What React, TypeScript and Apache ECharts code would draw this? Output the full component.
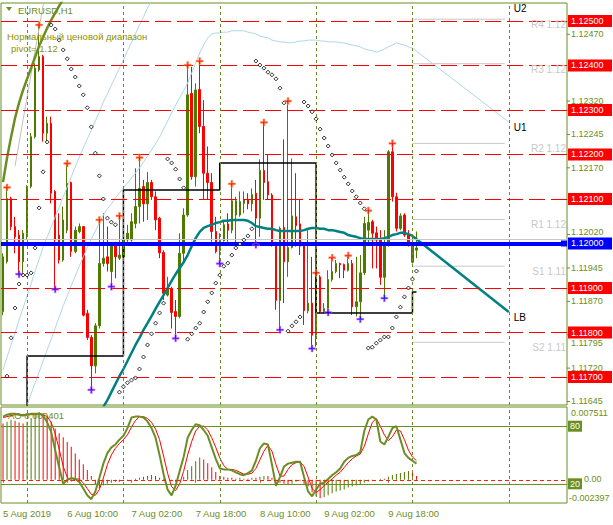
import React, { useEffect, useRef } from "react";
import * as echarts from "echarts";

const FONT = '"Liberation Sans", Arial, sans-serif';
const OLIVE = "#6B8E23";
const BULL = "#4f7a00";
const BEAR = "#ff0000";

const N_CATS = 141;
const PRICE_MIN = 1.116371;
const PRICE_MAX = 1.125404;
const AO_MIN = -0.002397;
const AO_MAX = 0.007511;

const tickBars = [0, 16, 32, 48, 64, 80, 96];
const tickLabels = ["5 Aug 2019", "6 Aug 10:00", "7 Aug 02:00", "7 Aug 18:00", "8 Aug 10:00", "9 Aug 02:00", "9 Aug 18:00"];
const separatorBars = [6, 30, 54, 78, 102, 126];

const opens = [
  1.11847, 1.11959, 1.12101, 1.12038, 1.12019, 1.11959, 1.12023, 1.12128, 1.1224, 1.1239,
  1.1242, 1.12248, 1.1227, 1.12117, 1.12019, 1.11963, 1.1203, 1.12137, 1.11982, 1.12027,
  1.12038, 1.11843, 1.11789, 1.11725, 1.11815, 1.11955, 1.1197, 1.11937, 1.12, 1.11967,
  1.1197, 1.12008, 1.12008, 1.12045, 1.12083, 1.12128, 1.12089, 1.12137, 1.12105, 1.12057,
  1.1198, 1.11884, 1.11899, 1.11847, 1.11836, 1.11978, 1.12064, 1.12337, 1.1215, 1.12346,
  1.12263, 1.12158, 1.12137, 1.12027, 1.11984, 1.12006, 1.12044, 1.1203, 1.12064, 1.12064,
  1.1209, 1.12099, 1.12089, 1.12113, 1.12057, 1.12164, 1.12139, 1.12109, 1.12, 1.11872,
  1.12036, 1.11959, 1.11991, 1.1206, 1.12044, 1.11997, 1.11849, 1.11866, 1.11794, 1.11925,
  1.11847, 1.11854, 1.11919, 1.11937, 1.11955, 1.11953, 1.1194, 1.11955, 1.11858, 1.11869,
  1.11934, 1.1203, 1.12049, 1.12024, 1.12009, 1.11924, 1.12, 1.12206, 1.12105, 1.12034,
  1.12064, 1.12019, 1.11958, 1.11985,
];
const closes = [
  1.1197, 1.12101, 1.12038, 1.12015, 1.11959, 1.12023, 1.12128, 1.1224, 1.12394, 1.1242,
  1.12248, 1.1227, 1.12113, 1.12008, 1.11963, 1.12053, 1.12135, 1.11982, 1.1203, 1.12038,
  1.11839, 1.11789, 1.11725, 1.11815, 1.11955, 1.11967, 1.11955, 1.11997, 1.1197, 1.11974,
  1.12008, 1.12023, 1.12049, 1.12083, 1.12124, 1.12089, 1.12137, 1.12105, 1.12053, 1.11979,
  1.11888, 1.11899, 1.11845, 1.11836, 1.11978, 1.12064, 1.12334, 1.1215, 1.12345, 1.12263,
  1.12158, 1.12137, 1.12027, 1.11982, 1.12006, 1.12042, 1.1203, 1.12096, 1.12096, 1.12094,
  1.12098, 1.12089, 1.1211, 1.12057, 1.12164, 1.12137, 1.12109, 1.11997, 1.11872, 1.12034,
  1.11959, 1.11991, 1.12062, 1.1204, 1.11994, 1.11849, 1.11866, 1.11794, 1.11925, 1.11847,
  1.11854, 1.11919, 1.11937, 1.11955, 1.11952, 1.1194, 1.11955, 1.11858, 1.11869, 1.11934,
  1.12045, 1.12047, 1.12023, 1.12008, 1.11924, 1.12, 1.12206, 1.12105, 1.12034, 1.12062,
  1.12019, 1.12002, 1.12001, 1.1199,
];
const lows = [
  1.11839, 1.11955, 1.1203, 1.11978, 1.11931, 1.11929, 1.12008, 1.12124, 1.12236, 1.12386,
  1.12229, 1.12225, 1.1209, 1.11897, 1.11955, 1.11959, 1.12023, 1.1197, 1.11978, 1.12023,
  1.11836, 1.11783, 1.11671, 1.11708, 1.11809, 1.11948, 1.11937, 1.11903, 1.11922, 1.11963,
  1.1194, 1.12, 1.12004, 1.12034, 1.12045, 1.12049, 1.12053, 1.12098, 1.1203, 1.11967,
  1.11873, 1.11881, 1.11809, 1.11787, 1.11832, 1.11955, 1.1206, 1.12143, 1.12128, 1.12248,
  1.12098, 1.12098, 1.12004, 1.11978, 1.11955, 1.12004, 1.12004, 1.12023, 1.12, 1.1206,
  1.12068, 1.12077, 1.12072, 1.11997, 1.12015, 1.12098, 1.12098, 1.11993, 1.11851, 1.11806,
  1.11866, 1.11925, 1.11989, 1.11993, 1.11974, 1.11817, 1.11843, 1.11764, 1.11768, 1.11843,
  1.11843, 1.11845, 1.11914, 1.11933, 1.11922, 1.11922, 1.11937, 1.11839, 1.11836, 1.1183,
  1.11929, 1.11997, 1.11944, 1.11944, 1.11907, 1.11877, 1.11993, 1.12094, 1.12027, 1.1203,
  1.12015, 1.11993, 1.11955, 1.11967,
];
const highs = [
  1.11978, 1.12126, 1.12105, 1.1206, 1.1203, 1.1203, 1.12131, 1.12248, 1.12405, 1.12491,
  1.12424, 1.12285, 1.12285, 1.1212, 1.12068, 1.12083, 1.1218, 1.12139, 1.12038, 1.12045,
  1.12039, 1.11851, 1.11794, 1.11821, 1.12053, 1.12068, 1.12038, 1.12, 1.12004, 1.12062,
  1.12075, 1.12042, 1.12068, 1.12169, 1.12193, 1.12143, 1.12161, 1.12143, 1.12117, 1.1206,
  1.11985, 1.11925, 1.11903, 1.11873, 1.12023, 1.12079, 1.12401, 1.12397, 1.1236, 1.1241,
  1.12322, 1.12218, 1.12158, 1.1206, 1.12023, 1.12053, 1.12068, 1.12134, 1.12105, 1.12117,
  1.12117, 1.12113, 1.12124, 1.12143, 1.12189, 1.12272, 1.12199, 1.12113, 1.12004, 1.12038,
  1.12234, 1.1232, 1.12191, 1.12158, 1.12099, 1.12, 1.1203, 1.1197, 1.11934, 1.11929,
  1.11866, 1.1194, 1.11968, 1.11963, 1.11957, 1.11955, 1.11973, 1.11963, 1.1197, 1.11974,
  1.1206, 1.12074, 1.12053, 1.12038, 1.1203, 1.1203, 1.1221, 1.12225, 1.12114, 1.12068,
  1.12068, 1.1203, 1.12015, 1.12027,
];

const upFractalBars = [1, 9, 16, 24, 29, 34, 46, 49, 57, 65, 71, 78, 82, 86, 91, 97];
const downFractalBars = [4, 13, 22, 27, 43, 54, 63, 69, 77, 81, 89, 95];

const sarValues = [
  null, 1.11702, 1.11788, 1.11855, 1.11909, 1.11929, 1.11929, 1.11934, 1.1199, 1.1208,
  1.12161, 1.12228, 1.12491, 1.12482, 1.12457, 1.12435, 1.12415, 1.12392, 1.12374, 1.12354,
  1.12334, 1.12305, 1.12262, 1.12203, 1.12152, 1.121, 1.12057, 1.12048, 1.12042, 1.11666,
  1.11678, 1.11687, 1.11693, 1.11698, 1.11718, 1.11745, 1.11772, 1.11797, 1.11821, 1.11844,
  1.11866, 1.1219, 1.12181, 1.12167, 1.12145, 1.12125, 1.11785, 1.11797, 1.1181, 1.11821,
  1.11846, 1.11869, 1.11889, 1.11911, 1.11929, 1.11949, 1.11956, 1.11974, 1.1199, 1.11999,
  1.12008, 1.12017, 1.12033, 1.1241, 1.12401, 1.12394, 1.12385, 1.12379, 1.1237, 1.12349,
  1.12316, 1.11803, 1.11815, 1.11824, 1.11835, 1.12318, 1.12309, 1.12296, 1.1228, 1.12257,
  1.12237, 1.12219, 1.12199, 1.12181, 1.12165, 1.12149, 1.12134, 1.12118, 1.12105, 1.12091,
  1.12078, 1.11765, 1.11767, 1.11776, 1.11783, 1.1179, 1.1179, 1.1181, 1.11835, 1.11857,
  1.1188, 1.119, 1.1192, 1.11938,
];

const maValues = [
  null, null, null, null, null, null, null, null, null, null,
  null, null, null, null, null, null, null, null, null, null,
  null, null, null, null, 1.11615, 1.11633, 1.11648, 1.11666, 1.11684, 1.11702,
  1.11718, 1.11736, 1.11754, 1.11772, 1.11788, 1.11806, 1.11821, 1.11837, 1.11853, 1.11869,
  1.11884, 1.119, 1.11916, 1.11931, 1.11945, 1.11958, 1.11974, 1.11994, 1.12012, 1.12026,
  1.12035, 1.12039, 1.12042, 1.12046, 1.12048, 1.12051, 1.12051, 1.12053, 1.12053, 1.12053,
  1.12053, 1.12051, 1.12046, 1.12039, 1.12037, 1.12035, 1.12033, 1.12033, 1.1203, 1.12028,
  1.12028, 1.12028, 1.12028, 1.12028, 1.12028, 1.1203, 1.12033, 1.12035, 1.12035, 1.12033,
  1.12033, 1.1203, 1.1203, 1.12028, 1.12026, 1.12024, 1.12019, 1.12017, 1.12015, 1.12012,
  1.1201, 1.1201, 1.1201, 1.1201, 1.1201, 1.12012, 1.12015, 1.12019, 1.12021, 1.12024,
  1.12024, 1.12021, 1.12017,
];
const lbProjectionBars = [102, 126];
const lbProjectionValues = [1.12017, 1.11846];

const upperBandValues = [
  null, null, null, null, null, 1.11612, 1.11637, 1.11662, 1.11687, 1.11711,
  1.11736, 1.11761, 1.11785, 1.1181, 1.11835, 1.1186, 1.11882, 1.11905, 1.11927, 1.11949,
  1.1197, 1.1199, 1.1201, 1.12028, 1.12046, 1.12064, 1.12078, 1.12089, 1.12102, 1.12114,
  1.12125, 1.12136, 1.12147, 1.12158, 1.1217, 1.12183, 1.12197, 1.1221, 1.12224, 1.12239,
  1.12257, 1.12275, 1.12293, 1.12311, 1.12327, 1.12343, 1.12361, 1.12383, 1.12406, 1.12428,
  1.12446, 1.12462, 1.12471, 1.12473, 1.12473, 1.12475, 1.12475, 1.12478, 1.12478, 1.12478,
  1.12478, 1.12475, 1.12473, 1.12471, 1.12466, 1.12464, 1.12462, 1.12457, 1.12455, 1.12453,
  1.12453, 1.12451, 1.12451, 1.12453, 1.12455, 1.12455, 1.12457, 1.12457, 1.12457, 1.12455,
  1.12455, 1.12453, 1.12453, 1.12453, 1.12451, 1.12451, 1.12448, 1.12446, 1.12444, 1.12442,
  1.12437, 1.12435, 1.12433, 1.1243, 1.12433, 1.12437, 1.12442, 1.12446, 1.12451, 1.12448,
  1.12446, 1.12442, 1.12439,
];
const u1ProjectionBars = [102, 126];
const u1ProjectionValues = [1.12439, 1.12273];

const steepBandValues = [
  1.11716, 1.11745, 1.11772, 1.11799, 1.11828, 1.11855, 1.11882, 1.11909, 1.11938, 1.11965,
  1.11992, 1.12015, 1.12037, 1.1206, 1.12082, 1.12105, 1.12127, 1.1215, 1.12172, 1.12194,
  1.12215, 1.12235, 1.12255, 1.12275, 1.12296, 1.12318, 1.12336, 1.12356, 1.12374, 1.12394,
  1.12412, 1.12433, 1.12451, 1.12471, 1.12491, 1.12509, 1.12529, 1.12547, 1.12565,
];
const u2BandValues = [
  1.12138, 1.12192, 1.12239, 1.12282, 1.12316, 1.12345, 1.1237, 1.12394, 1.12419, 1.12444,
  1.12464, 1.12484, 1.12502, 1.12518, 1.12534, 1.12549,
];
const greyBandValues = [null, null, null, 1.12174, 1.12226, 1.12278, 1.12329, 1.12381, 1.12433, 1.12484, 1.12536, 1.12588];

const rangeStepBars = [0, 6, 30, 54, 78, 102, 103];
const rangeStepValues = [1.1155, 1.11747, 1.1212, 1.12181, 1.11844, 1.11891, 1.11891];

const redLevels = [1.125, 1.124, 1.123, 1.122, 1.121, 1.119, 1.118, 1.117];
const blueLevel = 1.12;
const pivotP = 1.12009;
const pivotValues = [1.12504, 1.12404, 1.12225, 1.12054, 1.11949, 1.11778];
const pivotLabelText = ["R4 1.12", "R3 1.12", "R2 1.12", "R1 1.12", "S1 1.11", "S2 1.11"];
const pivotStartBar = 102;
const pivotEndBar = 125;

// axis tick labels; 1.12395 and 1.12095 sit fully under level boxes in the reference
const priceTicks = [1.1247, 1.1232, 1.12245, 1.1217, 1.1202, 1.11945, 1.1187, 1.11795, 1.1172, 1.11645];

const aoValues = [
  0.0058, 0.006, 0.0062, 0.0061, 0.0059, 0.0058, 0.006, 0.0063, 0.0067, 0.007,
  0.0069, 0.0066, 0.006, 0.0053, 0.0048, 0.0044, 0.0039, 0.0034, 0.0027, 0.0021,
  0.0016, 0.001, 0.0004, -0.0005, -0.0009, -0.0006, -0.0004, -0.0003, -0.0002, -0.0002,
  -0.0001, -0.0001, 0.0, 0.0001, 0.0002, 0.0003, 0.0004, 0.0005, 0.0004, 0.0002,
  0.0001, 0.0, -0.0001, -0.0002, -0.0001, 0.0003, 0.001, 0.0014, 0.0019, 0.0023,
  0.0021, 0.0017, 0.0013, 0.0008, 0.0004, 0.0003, 0.0002, 0.0002, 0.0001, 0.0002,
  0.0001, 0.0001, 0.0002, 0.0002, 0.0003, 0.0004, 0.0004, 0.0002, -0.0001, -0.0003,
  -0.0004, -0.0005, -0.0004, -0.0002, -0.0001, -0.0004, -0.0007, -0.0013, -0.0017, -0.0019,
  -0.0018, -0.0016, -0.0014, -0.0012, -0.0011, -0.001, -0.0008, -0.0007, -0.0006, -0.0005,
  -0.0003, -0.0002, -0.0001, 0.0, 0.0001, 0.0001, 0.0003, 0.0005, 0.0006, 0.0007,
  0.0008, 0.0009, 0.0007, 0.0004,
];
const stochMain = [
  90, 92, 93, 93, 92, 91, 92, 93, 93, 93,
  91, 84, 74, 55, 37, 20, 24, 26, 25, 22,
  15, 8, 4, 12, 26, 41, 52, 58, 61, 66,
  70, 78, 89, 90, 90, 89, 85, 78, 68, 50,
  30, 14, 8, 18, 33, 48, 68, 76, 82, 81,
  76, 70, 58, 46, 36, 35, 35, 34, 32, 30,
  29, 31, 34, 44, 57, 62, 61, 40, 18, 27,
  38, 41, 42, 43, 43, 27, 12, 7, 14, 20,
  21, 25, 29, 32, 36, 43, 47, 49, 50, 53,
  75, 87, 90, 87, 64, 61, 69, 78, 80, 66,
  52, 47, 44, 41,
];
const stochSignal = [
  89, 90, 91, 92, 92, 92, 92, 92, 92, 93,
  92, 90, 84, 72, 56, 38, 27, 23, 25, 25,
  21, 15, 9, 8, 14, 26, 40, 50, 57, 62,
  66, 71, 79, 86, 90, 90, 88, 84, 77, 66,
  49, 31, 17, 13, 20, 33, 50, 64, 75, 80,
  80, 76, 68, 58, 47, 39, 35, 35, 34, 32,
  30, 30, 31, 36, 45, 54, 60, 54, 40, 28,
  28, 35, 40, 42, 43, 38, 27, 15, 11, 14,
  18, 22, 25, 29, 32, 37, 42, 46, 49, 51,
  59, 72, 84, 88, 80, 71, 65, 69, 76, 75,
  66, 55, 48, 44,
];
const stochLevels = [80, 20];

function buildOption(): any {
  const cats = Array.from({ length: N_CATS }, (_, i) => String(i));
  const candleData = opens.map((o, i) => [o, closes[i], lows[i], highs[i]]);
  const pair = (bars: number[], vals: number[]) => bars.map((b, i) => [b, vals[i]]);
  const baseLine = (extra: any) => ({
    type: "line",
    xAxisIndex: 0,
    yAxisIndex: 0,
    symbol: "none",
    silent: true,
    animation: false,
    z: 4,
    ...extra,
  });

  const series: any[] = [];

  series.push({
    type: "line",
    xAxisIndex: 0,
    yAxisIndex: 0,
    data: [],
    silent: true,
    z: 1,
    markLine: {
      silent: true,
      precision: 10,
      symbol: ["none", "none"],
      label: { show: false },
      animation: false,
      data: [
        ...separatorBars.map((b) => ({ xAxis: b, lineStyle: { color: OLIVE, width: 1, type: [3, 3] } })),
        ...redLevels.map((v) => ({ yAxis: v, lineStyle: { color: "#ff0000", width: 1.2, type: [16, 6] } })),
        { yAxis: pivotP, lineStyle: { color: "#c8c8c8", width: 1, type: "solid" } },
        { yAxis: blueLevel, lineStyle: { color: "#0000ff", width: 4, type: "solid" } },
      ],
    },
  });

  pivotValues.forEach((v) => {
    series.push(
      baseLine({
        z: 1,
        data: [
          [pivotStartBar, v],
          [pivotEndBar, v],
        ],
        lineStyle: { color: "#c8c8c8", width: 1 },
      })
    );
  });

  series.push({
    type: "candlestick",
    xAxisIndex: 0,
    yAxisIndex: 0,
    data: candleData,
    barWidth: 2,
    silent: true,
    z: 3,
    itemStyle: { color: BULL, color0: BEAR, borderColor: BULL, borderColor0: BEAR, borderWidth: 1 },
  });

  series.push(baseLine({ data: steepBandValues, lineStyle: { color: "#add8e6", width: 1 } }));
  series.push(baseLine({ data: upperBandValues, lineStyle: { color: "#add8e6", width: 1 } }));
  series.push(baseLine({ data: pair(u1ProjectionBars, u1ProjectionValues), lineStyle: { color: "#add8e6", width: 1 } }));
  series.push(baseLine({ data: greyBandValues, lineStyle: { color: "#c0c0c0", width: 1 } }));
  series.push(baseLine({ data: u2BandValues, lineStyle: { color: OLIVE, width: 2.5 } }));
  series.push(baseLine({ data: pair(rangeStepBars, rangeStepValues), step: "end", lineStyle: { color: "#000000", width: 1.5 } }));
  series.push(baseLine({ data: maValues, lineStyle: { color: "#008080", width: 2.5 } }));
  series.push(baseLine({ data: pair(lbProjectionBars, lbProjectionValues), lineStyle: { color: "#008080", width: 2.5 } }));

  series.push({
    type: "scatter",
    xAxisIndex: 0,
    yAxisIndex: 0,
    silent: true,
    z: 5,
    symbol: "diamond",
    symbolSize: 4,
    itemStyle: { color: "#ffffff", borderColor: "#000000", borderWidth: 1 },
    data: sarValues.map((v, i) => [i, v]).filter((d) => d[1] != null),
  });

  const plus = "path://M3,0H5V3H8V5H5V8H3V5H0V3H3Z";
  series.push({
    type: "scatter",
    xAxisIndex: 0,
    yAxisIndex: 0,
    silent: true,
    z: 6,
    symbol: plus,
    symbolSize: 7,
    itemStyle: { color: "#ff0000", borderColor: "#ffa040", borderWidth: 0.6 },
    data: upFractalBars.map((b) => [b, highs[b]]),
  });
  series.push({
    type: "scatter",
    xAxisIndex: 0,
    yAxisIndex: 0,
    silent: true,
    z: 6,
    symbol: plus,
    symbolSize: 7,
    itemStyle: { color: "#0000ff", borderColor: "#ff60ff", borderWidth: 0.6 },
    data: downFractalBars.map((b) => [b, lows[b]]),
  });

  // indicator panel
  series.push({
    type: "bar",
    xAxisIndex: 1,
    yAxisIndex: 1,
    barWidth: 1,
    silent: true,
    z: 2,
    data: aoValues.map((v, i) => ({
      value: v,
      itemStyle: { color: i > 0 && v > aoValues[i - 1] ? BULL : BEAR },
    })),
    markLine: {
      silent: true,
      precision: 10,
      symbol: ["none", "none"],
      label: { show: false },
      animation: false,
      data: [
        ...separatorBars.map((b) => ({ xAxis: b, lineStyle: { color: OLIVE, width: 1, type: [3, 3] } })),
        { yAxis: 0, lineStyle: { color: "#ff2000", width: 1, type: [4, 3] } },
      ],
    },
  });
  series.push({
    type: "line",
    xAxisIndex: 1,
    yAxisIndex: 2,
    symbol: "none",
    silent: true,
    z: 3,
    data: stochSignal,
    lineStyle: { color: "#ff0000", width: 1 },
  });
  series.push({
    type: "line",
    xAxisIndex: 1,
    yAxisIndex: 2,
    symbol: "none",
    silent: true,
    z: 4,
    data: stochMain,
    lineStyle: { color: OLIVE, width: 2 },
    markLine: {
      silent: true,
      precision: 10,
      symbol: ["none", "none"],
      label: { show: false },
      animation: false,
      data: stochLevels.map((v) => ({ yAxis: v, lineStyle: { color: OLIVE, width: 1.2, type: "solid" } })),
    },
  });

  const isTick = (index: number) => tickBars.includes(index);

  return {
    animation: false,
    backgroundColor: "#ffffff",
    grid: [
      { left: 1, top: 3, width: 566, height: 402, show: true, borderColor: OLIVE, borderWidth: 1, backgroundColor: "#ffffff" },
      { left: 1, top: 407, width: 566, height: 96, show: true, borderColor: OLIVE, borderWidth: 1, backgroundColor: "#ffffff" },
    ],
    xAxis: [
      {
        type: "category",
        gridIndex: 0,
        data: cats,
        boundaryGap: true,
        axisLine: { show: false },
        axisTick: { show: false },
        axisLabel: { show: false },
        splitLine: { show: false },
      },
      {
        type: "category",
        gridIndex: 1,
        data: cats,
        boundaryGap: true,
        axisLine: { show: false },
        axisTick: { show: true, alignWithLabel: true, interval: isTick, length: 3, lineStyle: { color: OLIVE } },
        axisLabel: {
          show: true,
          interval: isTick,
          formatter: (_v: string, index: number) => {
            const k = tickBars.indexOf(index);
            return k >= 0 ? tickLabels[k] : "";
          },
          align: "left",
          color: OLIVE,
          fontSize: 9.5,
          fontFamily: FONT,
          margin: 5,
        },
        splitLine: { show: false },
      },
    ],
    yAxis: [
      { type: "value", gridIndex: 0, min: PRICE_MIN, max: PRICE_MAX, show: false, splitLine: { show: false } },
      { type: "value", gridIndex: 1, min: AO_MIN, max: AO_MAX, show: false, splitLine: { show: false } },
      { type: "value", gridIndex: 1, min: 0, max: 100, show: false, splitLine: { show: false } },
    ],
    series,
  };
}

function buildGraphics(chart: any): any[] {
  const py = (v: number) => chart.convertToPixel({ yAxisIndex: 0 }, v) as number;
  const ay = (v: number) => chart.convertToPixel({ yAxisIndex: 1 }, v) as number;
  const sy = (v: number) => chart.convertToPixel({ yAxisIndex: 2 }, v) as number;
  const px = (i: number) => chart.convertToPixel({ xAxisIndex: 0 }, i) as number;
  const AX = 567;
  const els: any[] = [];
  const txt = (t: string, x: number, y: number, fill: string, size: number, align = "left") => ({
    type: "text",
    x,
    y,
    z: 100,
    silent: true,
    style: {
      text: t,
      fill,
      font: `${size}px ${FONT}`,
      align,
      verticalAlign: "middle",
      textAlign: align,
      textVerticalAlign: "middle",
    },
  });
  const rect = (x: number, y: number, w: number, h: number, fill: string) => ({
    type: "rect",
    z: 99,
    silent: true,
    shape: { x, y, width: w, height: h },
    style: { fill },
  });

  // title
  els.push({ type: "polygon", z: 100, silent: true, shape: { points: [[6, 7], [12, 7], [9, 11]] }, style: { fill: OLIVE } });
  els.push(txt("EURUSD,H1", 18, 10, OLIVE, 9.5));
  els.push(txt("Нормальный ценовой диапазон", 7, 36, "#8f9200", 9.5));
  els.push(txt("pivot= 1.12", 11, 48, "#8f9200", 9.5));

  // price ticks (labels peeking out around the level boxes are nudged clear of them)
  priceTicks.forEach((v) => {
    const y = py(v);
    let ly = y;
    if (Math.abs(v - blueLevel) < 0.0003) ly = y - 2.5;
    if (Math.abs(v - 1.118) < 0.0001) ly = y + 8.5;
    els.push({ type: "line", z: 98, silent: true, shape: { x1: AX, y1: y, x2: AX + 3, y2: y }, style: { stroke: OLIVE, lineWidth: 1 } });
    els.push(txt(v.toFixed(5), AX + 4, ly, OLIVE, 9));
  });

  // level boxes
  redLevels.forEach((v) => {
    const y = py(v);
    els.push(rect(AX + 1, y - 6, 44, 12, "#ff0000"));
    els.push({ ...txt(v.toFixed(5), AX + 4, y, "#ffffff", 9), z: 101 });
  });
  {
    const y = py(blueLevel);
    els.push(rect(AX + 1, y - 6, 44, 12, "#0000ff"));
    els.push({ ...txt(blueLevel.toFixed(5), AX + 4, y, "#ffffff", 9), z: 101 });
    els.push(rect(AX - 6, y - 3, 6, 6, "#0000ff"));
  }

  // pivot labels
  pivotValues.forEach((v, i) => {
    els.push(txt(pivotLabelText[i], AX - 1, py(v) + 5.5, "#c8c8c8", 10, "right"));
  });

  // band labels
  const xLab = px(126) + 5;
  els.push(txt("U2", xLab, py(PRICE_MAX) + 5, "#000000", 10));
  els.push(txt("U1", xLab, py(u1ProjectionValues[1]) + 5, "#000000", 10));
  els.push(txt("LB", xLab, py(lbProjectionValues[1]) + 5, "#000000", 10));

  // indicator labels
  els.push(txt("AO 0.000401", 8, ay(AO_MAX) + 8, OLIVE, 9.5));
  els.push(txt(AO_MAX.toFixed(6), AX + 4, ay(AO_MAX) + 6, OLIVE, 9));
  els.push(txt("0.00", AX + 17, ay(0) - 1, OLIVE, 9));
  els.push(txt(AO_MIN.toFixed(6), AX + 2, ay(AO_MIN) - 5, OLIVE, 9));
  stochLevels.forEach((v) => {
    const y = sy(v);
    els.push(rect(AX + 1, y - 5.5, 14, 11, OLIVE));
    els.push({ ...txt(String(v), AX + 3, y, "#ffffff", 9), z: 101 });
  });

  return els;
}

export default function App() {
  const ref = useRef<HTMLDivElement>(null);
  useEffect(() => {
    document.body.style.margin = "0";
    const chart = echarts.init(ref.current as HTMLDivElement, null, { renderer: "svg" });
    chart.setOption(buildOption());
    chart.setOption({ graphic: { elements: buildGraphics(chart) } });
    return () => chart.dispose();
  }, []);
  return <div ref={ref} style={{ width: 613, height: 525 }} />;
}
